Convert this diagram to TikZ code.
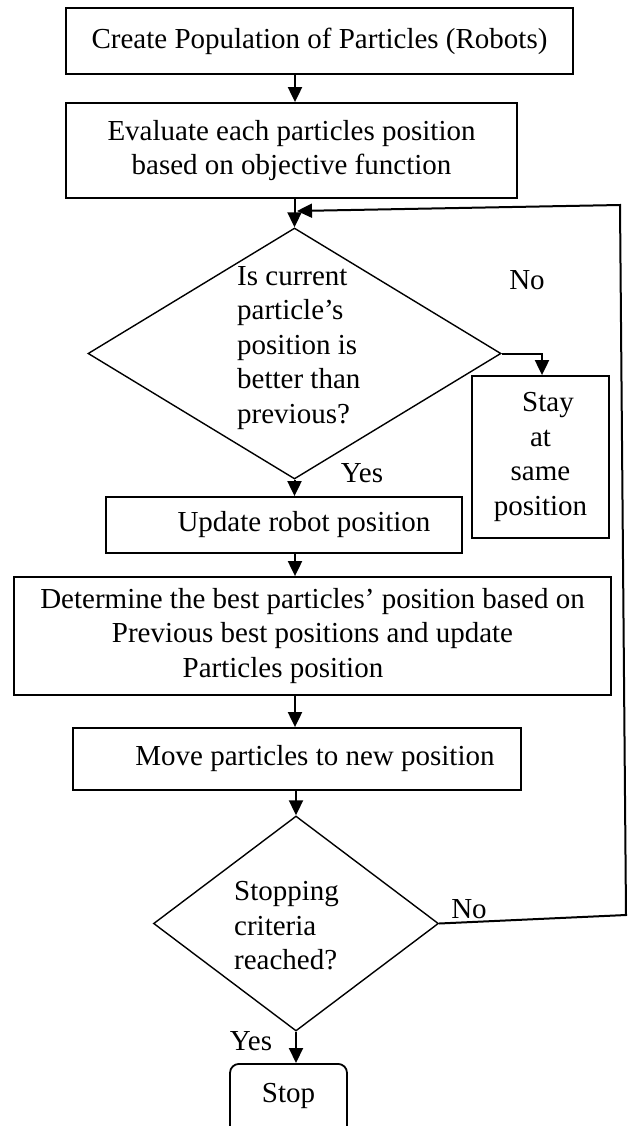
\documentclass[tikz,border=0pt]{standalone}
\usepackage{fontspec}
\setmainfont{Liberation Serif}
\usetikzlibrary{shapes.geometric,arrows.meta,calc}
\begin{document}
\begin{tikzpicture}[x=1pt,y=-1pt,
  txt/.style={font=\fontsize{29pt}{34.5pt}\selectfont},
  box/.style={draw, line width=1.8pt, rectangle, inner sep=0pt, txt, align=center},
  dec/.style={draw, line width=1.4pt, diamond, inner sep=0pt},
  arr/.style={line width=2pt, -{Triangle[length=15pt,width=14pt]}},
  lbl/.style={txt, inner sep=0pt, anchor=base}]
\useasboundingbox (0,0) rectangle (628,1126);
\clip (0,0) rectangle (628,1126);

\node[box, minimum width=507pt, minimum height=66pt] (b1) at (319.5,41) {Create Population of Particles (Robots)};
\node[box, minimum width=451pt, minimum height=95pt] (b2) at (291.5,150.5) {Evaluate each particles position\\based on objective function};
\node[dec, minimum width=413pt, minimum height=251pt] (d1) at (294.5,353.5) {};
\node[txt, align=left, anchor=west, inner sep=0pt] (d1t) at (237,347.7) {Is current\\particle’s\\position is\\better than\\previous?};
\node[box, minimum width=137pt, minimum height=162pt] (stay) at (540.5,457) {\hspace*{15pt}Stay\\at\hspace*{21pt}\\same\hspace*{17pt}\\position};
\node[box, minimum width=356pt, minimum height=56pt] (upd) at (284,525) {\hspace*{40pt}Update robot position};
\node[box, minimum width=597pt, minimum height=118pt] (b3) at (312.5,636) {Determine the best particles’ position based on\\Previous best positions and update\hspace*{33pt}\\Particles position\hspace*{59pt}};
\node[box, minimum width=448pt, minimum height=62pt] (b4) at (297,759) {\hspace*{36pt}Move particles to new position};
\node[dec, minimum width=285pt, minimum height=215pt] (d2) at (296,923.5) {};
\node[txt, align=left, anchor=west, inner sep=0pt] (d2t) at (234,926) {Stopping\\criteria\\reached?};
\node[box, rounded corners=9pt, anchor=north, minimum width=117pt, minimum height=77pt, text height=20pt, text depth=20pt] (stop) at (288.5,1063) {Stop};

\coordinate (ax) at (295,0);
\coordinate (nb) at (542,0);
\coordinate (r1) at (626,915);
\coordinate (r2) at (620,205);
\coordinate (fb) at (297,211);

\draw[arr] (b1.south -| ax) -- (b2.north -| ax);
\draw[arr] (b2.south -| d1.north) -- (d1.north);
\draw[arr] (d1.south) -- (d1.south |- upd.north);
\draw[arr] (upd.south -| ax) -- (b3.north -| ax);
\draw[arr] (b3.south -| ax) -- (b4.north -| ax);
\draw[arr] (b4.south -| d2.north) -- (d2.north);
\draw[arr] (d2.south) -- (d2.south |- stop.north);
\draw[arr] (d1.east) -- (d1.east -| nb) -- (stay.north -| nb);
\draw[arr] (d2.east) -- (r1) -- (r2) -- (fb);

\node[lbl] (no1) at (527,289) {No};
\node[lbl] (yes1) at (362,482) {Yes};
\node[lbl] (no2) at (469,918) {No};
\node[lbl] (yes2) at (251,1050) {Yes};
\end{tikzpicture}
\end{document}
